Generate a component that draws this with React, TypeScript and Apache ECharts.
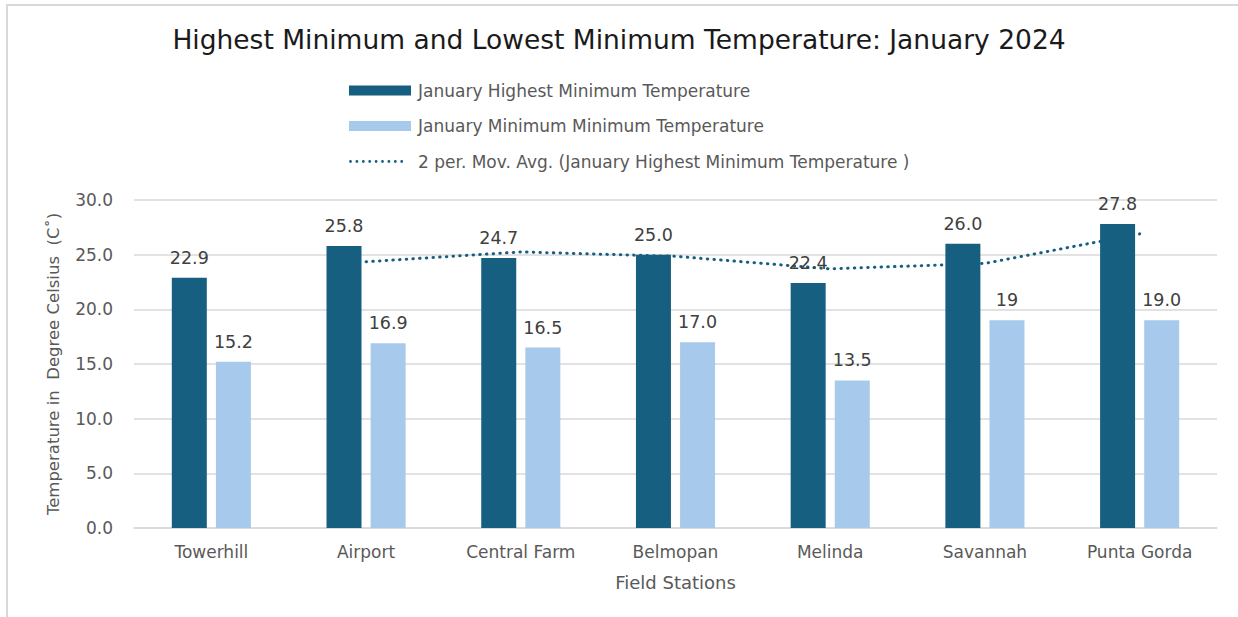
import React, { useEffect, useRef } from "react";
import * as echarts from "echarts";

const stations = ["Towerhill", "Airport", "Central Farm", "Belmopan", "Melinda", "Savannah", "Punta Gorda"];
const highestMin = [22.9, 25.8, 24.7, 25.0, 22.4, 26.0, 27.8];
const lowestMin = [15.2, 16.9, 16.5, 17.0, 13.5, 19, 19.0];
const lowestMinLabels = ["15.2", "16.9", "16.5", "17.0", "13.5", "19", "19.0"];
const movingAvg = [null, 24.35, 25.25, 24.85, 23.7, 24.2, 26.9];
const yTicks = { min: 0, max: 30, interval: 5 };

const DARK = "#175f80";
const LIGHT = "#a7caec";
const GREY_TEXT = "#595959";
const LABEL_TEXT = "#404040";
const FONT = "'DejaVu Sans', Verdana, sans-serif";

// Legend swatch for the moving-average: a row of round dots in a 62x10 box
// (two zero-area corners keep the box size fixed).
function dottedIcon(): string {
  let d = "M0 0L0.01 0L0 0.01ZM62 10L61.99 10L62 9.99Z";
  const r = 1.4;
  for (let i = 0; i < 9; i++) {
    const cx = 1.5 + i * 6.4;
    d += `M${cx - r} 5a${r} ${r} 0 1 0 ${2 * r} 0a${r} ${r} 0 1 0 ${-2 * r} 0Z`;
  }
  return "path://" + d;
}

export default function App() {
  const ref = useRef<HTMLDivElement>(null);

  useEffect(() => {
    if (!ref.current) return;
    const chart = echarts.init(ref.current, null, { renderer: "svg" });
    chart.setOption({
      animation: false,
      backgroundColor: "#ffffff",
      graphic: [
        {
          type: "rect",
          shape: { x: 7, y: 5, width: 1300, height: 700 },
          style: { fill: "none", stroke: "#d9d9d9", lineWidth: 2 },
          silent: true,
          z: -10,
        },
      ],
      title: {
        text: "Highest Minimum and Lowest Minimum Temperature: January 2024",
        left: "center",
        top: 21,
        textStyle: { fontFamily: FONT, fontSize: 26.5, fontWeight: "normal", color: "#1a1a1a" },
      },
      legend: {
        orient: "vertical",
        left: 344,
        top: 77,
        itemWidth: 62,
        itemHeight: 10,
        itemGap: 18.5,
        textStyle: { fontFamily: FONT, fontSize: 17, color: GREY_TEXT, padding: [0, 0, 0, 2] },
        data: [
          { name: "January Highest Minimum Temperature", icon: "rect" },
          { name: "January Minimum Minimum Temperature", icon: "rect" },
          { name: "2 per. Mov. Avg. (January Highest Minimum Temperature )", icon: dottedIcon() },
        ],
      },
      grid: { left: 134, right: 21, top: 200, bottom: 89 },
      xAxis: {
        type: "category",
        data: stations,
        name: "Field Stations",
        nameLocation: "middle",
        nameGap: 45,
        nameTextStyle: { fontFamily: FONT, fontSize: 18, color: GREY_TEXT },
        axisLine: { lineStyle: { color: "#d9d9d9", width: 1.5 } },
        axisTick: { show: false },
        axisLabel: { fontFamily: FONT, fontSize: 17, color: GREY_TEXT, margin: 15 },
      },
      yAxis: {
        type: "value",
        min: yTicks.min,
        max: yTicks.max,
        interval: yTicks.interval,
        name: "Temperature in  Degree Celsius  (C˚)",
        nameLocation: "middle",
        nameGap: 72,
        nameTextStyle: { fontFamily: FONT, fontSize: 16.5, color: GREY_TEXT },
        axisLabel: {
          fontFamily: FONT,
          fontSize: 17,
          color: GREY_TEXT,
          margin: 21,
          formatter: (v: number) => v.toFixed(1),
        },
        splitLine: { lineStyle: { color: "#d9d9d9", width: 1.5 } },
        axisLine: { show: false },
        axisTick: { show: false },
      },
      series: [
        {
          name: "2 per. Mov. Avg. (January Highest Minimum Temperature )",
          type: "line",
          data: movingAvg,
          symbol: "none",
          z: 1,
          lineStyle: { color: DARK, width: 3, type: [0.5, 6.2], cap: "round" },
          itemStyle: { color: DARK, borderWidth: 0 },
        },
        {
          name: "January Highest Minimum Temperature",
          type: "bar",
          data: highestMin,
          barWidth: 35,
          barGap: "26%",
          z: 3,
          itemStyle: { color: DARK },
          label: {
            show: true,
            position: "top",
            distance: 11,
            fontFamily: FONT,
            fontSize: 17.5,
            color: LABEL_TEXT,
            formatter: (p: any) => Number(p.value).toFixed(1),
          },
        },
        {
          name: "January Minimum Minimum Temperature",
          type: "bar",
          data: lowestMin,
          barWidth: 35,
          z: 3,
          itemStyle: { color: LIGHT },
          label: {
            show: true,
            position: "top",
            distance: 11,
            fontFamily: FONT,
            fontSize: 17.5,
            color: LABEL_TEXT,
            formatter: (p: any) => lowestMinLabels[p.dataIndex],
          },
        },
      ],
    });
    return () => chart.dispose();
  }, []);

  return (
    <div
      ref={ref}
      style={{ position: "absolute", left: 0, top: 0, width: 1238, height: 617 }}
    />
  );
}
